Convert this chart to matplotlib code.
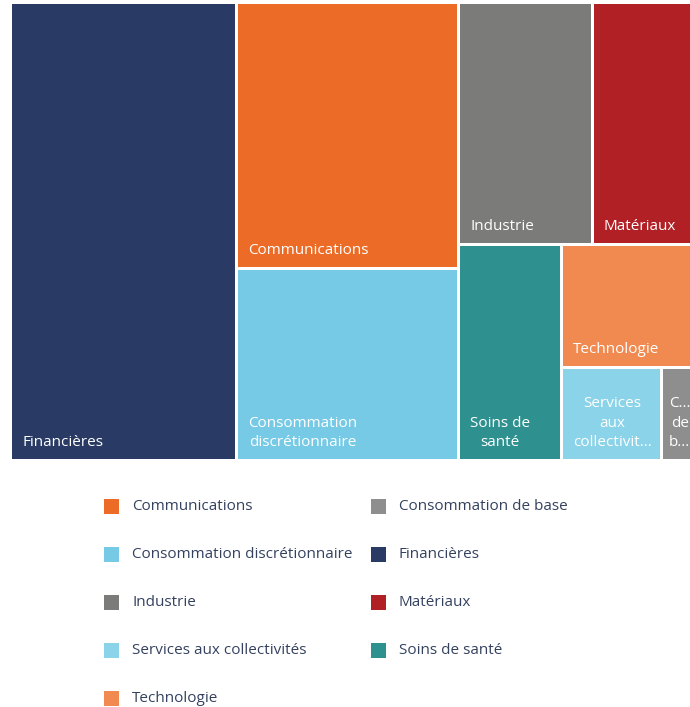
import matplotlib
matplotlib.use("Agg")
import matplotlib.pyplot as plt
from matplotlib.patches import Rectangle

# secteurs (ordre alphabétique, comme la légende)
secteurs = ["Communications", "Consommation de base", "Consommation discrétionnaire",
            "Financières", "Industrie", "Matériaux", "Services aux collectivités",
            "Soins de santé", "Technologie"]
poids = [18.9, 0.9, 13.7, 33.2, 10.4, 7.7, 3.0, 7.1, 5.1]
couleurs = ["#EC6C27", "#8E8E8E", "#76CAE6", "#293B64", "#7B7B79",
            "#B02024", "#8AD3E8", "#2E918F", "#F08A50"]
# texte affiché dans chaque case (coupé comme dans le visuel)
etiquettes = ["Communications", "C...\nde\nb...", "Consommation\ndiscrétionnaire",
              "Financières", "Industrie", "Matériaux", "Services\naux\ncollectivit...",
              "Soins de\nsanté", "Technologie"]

# découpage du treemap : 'h' = côte à côte, 'v' = empilé
idx = {s: i for i, s in enumerate(secteurs)}
arbre = ("h", ["Financières",
               ("v", ["Communications", "Consommation discrétionnaire"]),
               ("v", [("h", ["Industrie", "Matériaux"]),
                      ("h", ["Soins de santé",
                             ("v", ["Technologie",
                                    ("h", ["Services aux collectivités", "Consommation de base"])])])])])


def total(n):
    if isinstance(n, str):
        return poids[idx[n]]
    return sum(total(c) for c in n[1])


def placer(n, x, y, w, h, res):
    if isinstance(n, str):
        res[n] = (x, y, w, h)
        return
    sens, enfants = n
    t = total(n)
    pos = x if sens == "h" else y
    for c in enfants:
        f = total(c) / t
        if sens == "h":
            placer(c, pos, y, w * f, h, res)
            pos += w * f
        else:
            placer(c, x, pos, w, h * f, res)
            pos += h * f


plt.rcParams['font.family'] = ['Open Sans', 'DejaVu Sans']
fig = plt.figure(figsize=(6.9, 7.07), dpi=100)
ax = fig.add_axes([0, 0, 1, 1])
ax.set_xlim(0, 690)
ax.set_ylim(707, 0)
ax.axis("off")

boites = {}
placer(arbre, 10.5, 2.5, 681, 458, boites)
gap = 1.5
for s in secteurs:
    x, y, w, h = boites[s]
    i = idx[s]
    ax.add_patch(Rectangle((x + gap, y + gap), w - 2 * gap, h - 2 * gap,
                           facecolor=couleurs[i], edgecolor="none"))
    pad = 10 if w > 60 else 6
    ax.text(x + gap + pad, y + h - gap - 9, etiquettes[i], color="white",
            fontsize=11, ha="left", va="bottom", multialignment="center",
            linespacing=1.4)

# légende sur deux colonnes, remplie ligne par ligne
for k, s in enumerate(secteurs):
    col, lig = k % 2, k // 2
    xm = 104 + col * 267
    ym = 506 + lig * 48
    ax.add_patch(Rectangle((xm, ym - 7.5), 15, 15, facecolor=couleurs[idx[s]],
                           edgecolor="none"))
    ax.text(xm + 28, ym + 1, s, color="#34415F", fontsize=11, ha="left", va="center")

plt.savefig("out.png", dpi=100)
